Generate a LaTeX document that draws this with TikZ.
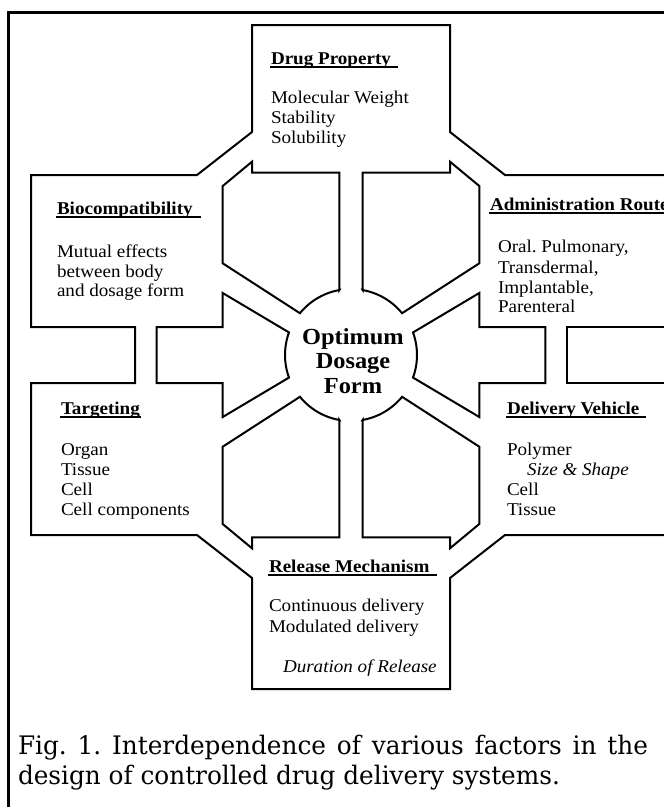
\documentclass[tikz,border=0pt]{standalone}
\usepackage{fontspec}
\setmainfont{Liberation Serif}[FakeStretch=1.06]
\newfontfamily\capfont{DejaVu Serif}[FakeStretch=0.97]
\frenchspacing
\begin{document}
\begin{tikzpicture}[x=1pt,y=-1pt,line width=2pt,line join=miter,
  body/.style={inner sep=0pt,anchor=base west,font=\fontsize{18}{20}\selectfont},
  ital/.style={body,font=\fontsize{18}{20}\selectfont\itshape},
  ttl/.style={body,font=\fontsize{18}{20}\selectfont\bfseries},
  ulbar/.style={line width=2pt},
  captxt/.style={inner sep=0pt,anchor=base west,font=\capfont\fontsize{25.5}{30}\selectfont}]
\useasboundingbox (0,0) rectangle (664,807);
\fill[white] (0,0) rectangle (664,807);
\begin{scope}
\clip (0,0) rectangle (664,807);
% frame
\draw[line width=3pt] (8.5,807) -- (8.5,12) -- (664,12);
% outer boundary
\draw (664,175) -- (505,175) -- (450,132) -- (450,25) -- (252,25) -- (252,132) -- (197,175)
  -- (31,175) -- (31,327) -- (135,327) -- (135,383) -- (31,383) -- (31,535) -- (197,535)
  -- (252,578) -- (252,689) -- (450,689) -- (450,578) -- (505,535) -- (664,535);
\draw (664,327) -- (567,327) -- (567,383) -- (664,383);
% diagonal islands
\draw (252,161.7) -- (252,172.7) -- (339.3,172.7) -- (339.3,290.05)
  -- plot[domain=259.79:219.3,samples=15] ({351+66*cos(\x)},{355+66*sin(\x)})
  -- (222.7,263.3) -- (222.7,186) -- cycle;
\draw (450,161.7) -- (450,172.7) -- (362.7,172.7) -- (362.7,290.05)
  -- plot[domain=280.21:320.7,samples=15] ({351+66*cos(\x)},{355+66*sin(\x)})
  -- (479.3,263.3) -- (479.3,186) -- cycle;
\draw (252,548.3) -- (252,537.3) -- (339.3,537.3) -- (339.3,419.95)
  -- plot[domain=100.21:140.7,samples=15] ({351+66*cos(\x)},{355+66*sin(\x)})
  -- (222.7,446.7) -- (222.7,524) -- cycle;
\draw (450,548.3) -- (450,537.3) -- (362.7,537.3) -- (362.7,419.95)
  -- plot[domain=79.79:39.3,samples=15] ({351+66*cos(\x)},{355+66*sin(\x)})
  -- (479.3,446.7) -- (479.3,524) -- cycle;
% horizontal arrows
\draw (156.7,327) -- (222.7,327) -- (222.7,293)
  -- plot[domain=200:160,samples=15] ({351+66*cos(\x)},{355+66*sin(\x)})
  -- (222.7,417) -- (222.7,383) -- (156.7,383) -- cycle;
\draw (545.3,327) -- (479.3,327) -- (479.3,293)
  -- plot[domain=-20:20,samples=15] ({351+66*cos(\x)},{355+66*sin(\x)})
  -- (479.3,417) -- (479.3,383) -- (545.3,383) -- cycle;
% centre
\node[inner sep=0pt,align=center,font=\fontsize{23}{24.5}\selectfont\bfseries] (centre) at (353,361) {Optimum\\Dosage\\Form};
% Drug property
\node[ttl] (dpT) at (270,64) {Drug Property};
\draw[ulbar] ([yshift=-2.5pt]dpT.base west) -- ([xshift=6pt,yshift=-2.5pt]dpT.base east);
\node[body] (dp1) at (270,103) {Molecular Weight};
\node[body] (dp2) at (270,123.5) {Stability};
\node[body] (dp3) at (270,143.5) {Solubility};
% Biocompatibility
\node[ttl] (bcT) at (56,214) {Biocompatibility};
\draw[ulbar] ([yshift=-2.5pt]bcT.base west) -- ([xshift=7pt,yshift=-2.5pt]bcT.base east);
\node[body] (bc1) at (56,257) {Mutual effects};
\node[body] (bc2) at (56,277) {between body};
\node[body] (bc3) at (56,296) {and dosage form};
% Administration route
\node[ttl] (arT) at (489,210) {Administration Route};
\draw[ulbar] ([yshift=-2.5pt]arT.base west) -- ([yshift=-2.5pt]arT.base east);
\node[body] (ar1) at (497,252) {Oral. Pulmonary,};
\node[body] (ar2) at (497,273) {Transdermal,};
\node[body] (ar3) at (497,293.5) {Implantable,};
\node[body] (ar4) at (497,312.5) {Parenteral};
% Targeting
\node[ttl] (tgT) at (60,414) {Targeting};
\draw[ulbar] ([yshift=-2.5pt]tgT.base west) -- ([yshift=-2.5pt]tgT.base east);
\node[body] (tg1) at (60,455.5) {Organ};
\node[body] (tg2) at (60,475.5) {Tissue};
\node[body] (tg3) at (60,495.5) {Cell};
\node[body] (tg4) at (60,515.5) {Cell components};
% Delivery vehicle
\node[ttl] (dvT) at (506,414) {Delivery Vehicle};
\draw[ulbar] ([yshift=-2.5pt]dvT.base west) -- ([xshift=6pt,yshift=-2.5pt]dvT.base east);
\node[body] (dv1) at (506,455.5) {Polymer};
\node[ital] (dv2) at (526,475.5) {Size \& Shape};
\node[body] (dv3) at (506,495) {Cell};
\node[body] (dv4) at (506,515.5) {Tissue};
% Release mechanism
\node[ttl] (rmT) at (268,572.5) {Release Mechanism};
\draw[ulbar] ([yshift=-2.5pt]rmT.base west) -- ([xshift=6pt,yshift=-2.5pt]rmT.base east);
\node[body] (rm1) at (268,611.5) {Continuous delivery};
\node[body] (rm2) at (268,632) {Modulated delivery};
\node[ital] (rm3) at (282,672) {Duration of Release};
% caption
\node[captxt] (cap1) at (17,754) {\makebox[630pt][s]{Fig. 1. Interdependence of various factors in the}};
\node[captxt] (cap2) at (17,784) {design of controlled drug delivery systems.};
\end{scope}
\end{tikzpicture}
\end{document}
